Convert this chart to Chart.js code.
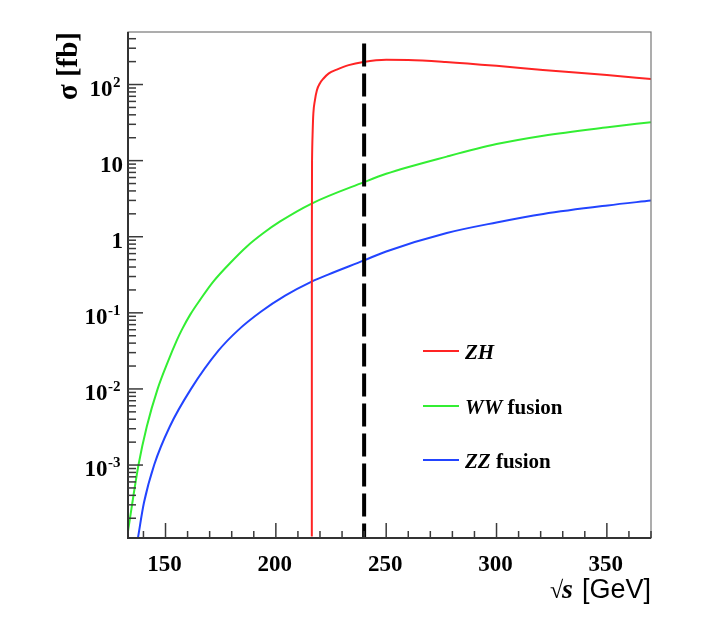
<!DOCTYPE html>
<html>
<head>
<meta charset="utf-8">
<script src="https://cdn.jsdelivr.net/npm/chart.js@4.4.1/dist/chart.umd.min.js"></script>
<style>
  body { margin: 0; background: #fff; }
  canvas { display: block; }
</style>
</head>
<body>
<canvas id="xsec" width="710" height="632"></canvas>
<script>
// sqrt(s) in GeV and cross sections in fb
var zhX = [216.3, 216.32, 216.4, 216.7, 217.0, 217.7, 218.6, 220, 221.6, 224, 227.6, 233, 239.7, 250, 260, 277, 300, 321, 350, 370];
var zhY = [1.15e-4, 1, 10, 25, 42, 62, 84, 104, 120, 140, 157, 180, 198, 211, 210, 198, 176, 155, 133, 118];

var wwX = [132.97, 137.77, 141.49, 146.47, 150.91, 155.16, 157.43, 161.19, 165.72, 171.74, 179.3, 186.87, 194.38, 201.95, 215.99, 240, 250, 277.45, 300, 321.2, 350.4, 370];
var wwY = [1.34e-4, 1.01e-3, 3.19e-3, 1.01e-2, 0.0222, 0.0438, 0.0602, 0.0947, 0.149, 0.259, 0.452, 0.746, 1.118, 1.588, 2.71, 5.22, 6.71, 11.3, 16.5, 21.3, 27.5, 32.0];

var zzX = [137.5, 140.22, 144.88, 151.9, 161.64, 173.87, 182.93, 193.34, 204.21, 216.21, 223.69, 240, 250, 277.45, 300, 321.2, 350.4, 370];
var zzY = [1.1e-4, 3.19e-4, 1.01e-3, 3.19e-3, 1.01e-2, 0.0316, 0.0593, 0.104, 0.168, 0.257, 0.318, 0.489, 0.641, 1.12, 1.54, 1.99, 2.58, 2.99];

// running point marker
var runX = [240, 240];
var runY = [345, 1.1e-4];

var xMin = 133, xMax = 370;
var yMin = 1.1e-4, yMax = 490;

var xTickValues = [150, 200, 250, 300, 350];
var yTickValues = [1e-3, 1e-2, 1e-1, 1, 10, 100];
var yTickBase = ['10', '10', '10', '1', '10', '10'];
var yTickExp = ['-3', '-2', '-1', '', '', '2'];

var seriesNames = ['ZH', 'WW fusion', 'ZZ fusion'];
var seriesColors = ['#ff2424', '#33ee33', '#2244ff'];

var toPoints = function(xs, ys) {
    return xs.map(function(x, i) { return { x: x, y: ys[i] }; });
};

var serif = '"Liberation Serif", "DejaVu Serif", serif';
var sans = '"Liberation Sans", Arial, sans-serif';

var rootStyle = {
    id: 'rootStyle',
    afterDatasetsDraw: function(chart) {
        var c = chart.ctx, a = chart.chartArea;
        var xs = chart.scales.x, ys = chart.scales.y;
        c.save();

        // frame
        c.strokeStyle = '#777';
        c.lineWidth = 1.2;
        c.strokeRect(a.left, a.top, a.right - a.left, a.bottom - a.top);
        c.strokeStyle = '#333';
        c.lineWidth = 2;
        c.beginPath();
        c.moveTo(a.left, a.top);
        c.lineTo(a.left, a.bottom);
        c.lineTo(a.right, a.bottom);
        c.stroke();

        // ticks pointing into the frame
        c.lineWidth = 1.5;
        c.strokeStyle = '#3a3a3a';
        for (var e = -4; e <= 2; e++) {
            for (var m = 1; m <= 9; m++) {
                var v = m * Math.pow(10, e);
                if (v < ys.min || v > ys.max) continue;
                var py = ys.getPixelForValue(v);
                c.beginPath();
                c.moveTo(a.left, py);
                c.lineTo(a.left + (m == 1 ? 15 : 8), py);
                c.stroke();
            }
        }
        for (var t = 140; t <= xMax; t += 10) {
            var px = xs.getPixelForValue(t);
            c.beginPath();
            c.moveTo(px, a.bottom);
            c.lineTo(px, a.bottom - (t % 50 == 0 ? 15 : 7));
            c.stroke();
        }

        // tick labels
        c.fillStyle = '#000';
        c.textBaseline = 'alphabetic';
        c.font = 'bold 23px ' + serif;
        c.textAlign = 'center';
        xTickValues.forEach(function(v) {
            c.fillText(String(v), xs.getPixelForValue(v) - 1, 571);
        });
        yTickValues.forEach(function(v, i) {
            var py = ys.getPixelForValue(v) + 11;
            c.font = 'bold 23px ' + serif;
            if (yTickExp[i] === '') {
                c.textAlign = 'right';
                c.fillText(yTickBase[i], a.left - 5, py);
            } else {
                var bw = c.measureText(yTickBase[i]).width;
                c.font = 'bold 15px ' + serif;
                var ew = c.measureText(yTickExp[i]).width;
                var x0 = a.left - 8 - ew - bw;
                c.textAlign = 'left';
                c.font = 'bold 23px ' + serif;
                c.fillText(yTickBase[i], x0, py);
                c.font = 'bold 15px ' + serif;
                c.fillText(yTickExp[i], x0 + bw + 0.5, py - 9);
            }
        });

        // axis titles
        c.textAlign = 'right';
        c.font = '27px ' + sans;
        c.fillText('[GeV]', a.right, 598);
        var gw = c.measureText('[GeV]').width;
        c.font = 'italic bold 28px ' + serif;
        c.fillText('s', a.right - gw - 9, 598);
        var sw = c.measureText('s').width;
        c.font = '24px ' + serif;
        c.fillText('\u221A', a.right - gw - 9 - sw + 1, 598);

        c.save();
        c.translate(77, a.top);
        c.rotate(-Math.PI / 2);
        c.font = 'bold 29px ' + serif;
        c.textAlign = 'right';
        c.fillText('\u03C3 [fb]', 0, 0);
        c.restore();

        // legend
        var rows = [351, 406, 460];
        chart.data.datasets.forEach(function(ds, i) {
            if (i >= seriesNames.length) return;
            var y = rows[i];
            c.strokeStyle = ds.borderColor;
            c.lineWidth = 2;
            c.beginPath();
            c.moveTo(423, y);
            c.lineTo(459, y);
            c.stroke();
            var parts = ds.label.split(' ');
            c.fillStyle = '#000';
            c.textAlign = 'left';
            c.font = 'italic bold 21px ' + serif;
            c.fillText(parts[0], 465, y + 8);
            if (parts.length > 1) {
                var w = c.measureText(parts[0]).width;
                c.font = 'bold 21px ' + serif;
                c.fillText(' ' + parts.slice(1).join(' '), 465 + w, y + 8);
            }
        });
        c.restore();
    }
};

var ctx = document.getElementById('xsec').getContext('2d');
var xsecChart = new Chart(ctx, {
    type: 'line',
    data: {
        datasets: [{
            label: seriesNames[0],
            data: toPoints(zhX, zhY),
            borderColor: seriesColors[0],
            borderWidth: 2,
            pointRadius: 0,
            fill: false,
            cubicInterpolationMode: 'monotone',
            order: 1
        }, {
            label: seriesNames[1],
            data: toPoints(wwX, wwY),
            borderColor: seriesColors[1],
            borderWidth: 2,
            pointRadius: 0,
            fill: false,
            cubicInterpolationMode: 'monotone',
            order: 2
        }, {
            label: seriesNames[2],
            data: toPoints(zzX, zzY),
            borderColor: seriesColors[2],
            borderWidth: 2,
            pointRadius: 0,
            fill: false,
            cubicInterpolationMode: 'monotone',
            order: 3
        }, {
            label: '240 GeV',
            data: toPoints(runX, runY),
            borderColor: '#000',
            borderWidth: 4,
            borderDash: [23, 7],
            pointRadius: 0,
            fill: false,
            order: 0
        }]
    },
    options: {
        responsive: false,
        animation: false,
        layout: { padding: { left: 128, top: 32, right: 59, bottom: 94 } },
        plugins: {
            legend: { display: false },
            tooltip: { enabled: false }
        },
        scales: {
            x: { type: 'linear', min: xMin, max: xMax, display: false },
            y: { type: 'logarithmic', min: yMin, max: yMax, display: false }
        }
    },
    plugins: [rootStyle]
});
</script>
</body>
</html>
